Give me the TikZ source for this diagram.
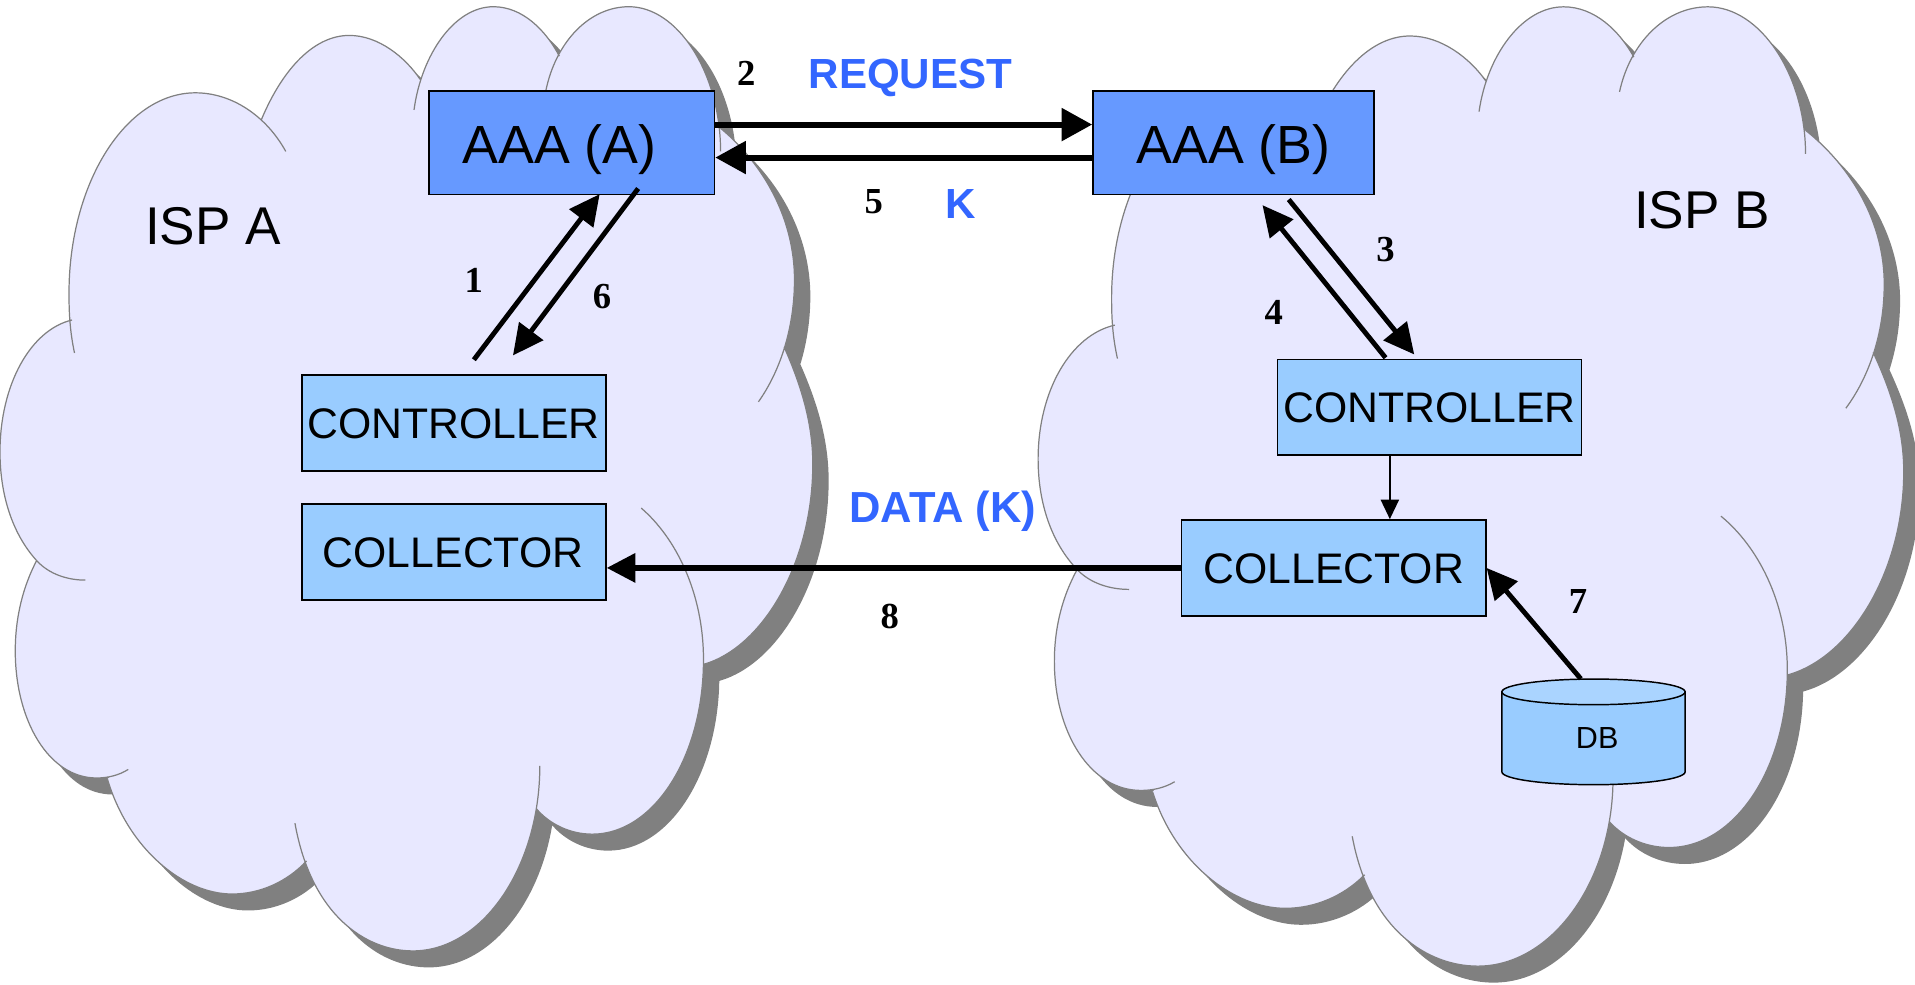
\documentclass[tikz,border=0pt]{standalone}
\usepackage{fontspec}
\setmainfont{Liberation Sans}
\newfontfamily\numfont{Liberation Serif}
\usetikzlibrary{arrows.meta}
\definecolor{cloudfill}{HTML}{E8E8FF}
\definecolor{cloudshadow}{HTML}{808080}
\definecolor{aaafill}{HTML}{6699FF}
\definecolor{boxfill}{HTML}{99CCFF}
\definecolor{dbtop}{HTML}{AAD4FF}
\definecolor{labelblue}{HTML}{3366FF}
% place text on a box: #1 horizontal shift of the text centre, #2 baseline above node centre
\newcommand\placed[3]{\raisebox{#2}[0pt][0pt]{\makebox[0pt][c]{\hspace*{#1}\hspace*{#1}#3}}}
% every lobe of a cloud, clockwise; \lobepre and \lobepost turn it into a fan (fill) or an open arc (stroke)
\newcommand\cloudlobes{%
  \lobepre (70,475) .. controls (55,475) and (40,470) .. (30,459) .. controls (10,437) and (0,405) .. (0,370) .. controls (0,315) and (25,270) .. (59,262) \lobepost
  \lobepre (61,289) .. controls (57,270) and (56.5,255) .. (56.5,240) .. controls (56.5,150) and (103,76) .. (160,76) .. controls (190,76) and (218,95) .. (234,124) \lobepost
  \lobepre (214,98) .. controls (232,55) and (258,29) .. (286,29) .. controls (310,29) and (332,47) .. (344,65) \lobepost
  \lobepre (339,90) .. controls (345,45) and (372,5.5) .. (404,5.5) .. controls (428,5.5) and (447,25) .. (458,46) \lobepost
  \lobepre (447,74) .. controls (455,35) and (482,5.5) .. (515,5.5) .. controls (555,5.5) and (590,60) .. (590,124) \lobepost
  \lobepre (590,105) .. controls (626,135) and (650.5,180) .. (650.5,229) .. controls (650.5,270) and (638,305) .. (621,329) \lobepost
  \lobepre (642,284) .. controls (658,320) and (665.5,350) .. (665.5,380) .. controls (665.5,460) and (625,530) .. (576,544) \lobepost
  \lobepre (525,416) .. controls (553,440) and (576,485) .. (576,540) .. controls (576,620) and (535,683) .. (485,683) .. controls (467,683) and (450,675) .. (439,662) \lobepost
  \lobepre (442,627) .. controls (442,710) and (395,778.6) .. (338,778.6) .. controls (300,778.6) and (255,750) .. (241.5,674) \lobepost
  \lobepre (251,705) .. controls (235,722) and (213,732) .. (190,732) .. controls (150,732) and (105,695) .. (88,638) \lobepost
  \lobepre (105,630) .. controls (97,635) and (88,637) .. (79,637) .. controls (40,637) and (12.5,590) .. (12.5,533) .. controls (12.5,505) and (19,480) .. (30,459) \lobepost
}
\newcommand\fancloud{\def\lobepre{(330,400) --}\def\lobepost{-- cycle}}
\newcommand\opencloud{\def\lobepre{}\def\lobepost{}}
\newcommand\drawcloud[3]{%
  \begin{scope}[shift={(#1+13,13.5)},xscale=#2,yscale=#3]
    \fancloud\fill[cloudshadow] \cloudlobes;
  \end{scope}
  \begin{scope}[shift={(#1,0)},xscale=#2,yscale=#3]
    \fancloud\fill[cloudfill] \cloudlobes;
    \opencloud\draw[cloudshadow,line width=1pt] \cloudlobes;
  \end{scope}
}
\tikzset{
  aaabox/.style={draw=black,line width=1.4pt,fill=aaafill,inner sep=0pt,minimum width=#1,minimum height=84.5pt,font=\fontsize{44}{50}\selectfont},
  plainbox/.style={draw=black,line width=1.4pt,fill=boxfill,inner sep=0pt,minimum width=249pt,minimum height=78.5pt,font=\fontsize{35}{40}\selectfont},
  isp/.style={anchor=base,inner sep=0pt,font=\fontsize{43.5}{50}\selectfont},
  num/.style={anchor=base,inner sep=0pt,font=\numfont\bfseries\fontsize{30}{34}\selectfont},
  bluelabel/.style={anchor=base,inner sep=0pt,text=labelblue,font=\bfseries\fontsize{34.5}{40}\selectfont},
  heavy/.style={line width=4.9pt,-{Triangle[length=25pt,width=26pt]}},
  medium/.style={line width=4pt,-{Triangle[length=25pt,width=24pt]}},
  fine/.style={line width=1.2pt,-{Triangle[length=16pt,width=15pt]}}
}
\begin{document}
\begin{tikzpicture}[x=1pt,y=-1pt]
\useasboundingbox (0,0) rectangle (1568,805.7);
\drawcloud{0}{1}{1}
\drawcloud{850}{1.065}{1.016}

\node[aaabox=234pt] (aaaA) at (468,117) {\placed{-10pt}{-16.7pt}{AAA (A)}};
\node[aaabox=230pt] (aaaB) at (1010,117) {\placed{0pt}{-16.7pt}{AAA (B)}};
\node[plainbox] (ctrlA) at (371.5,346.5) {\placed{0pt}{-12.5pt}{CONTROLLER}};
\node[plainbox] (collA) at (371.5,452) {\placed{-0.5pt}{-12.5pt}{COLLECTOR}};
\node[plainbox] (ctrlB) at (1170.5,333.5) {\placed{0pt}{-12.5pt}{CONTROLLER}};
\node[plainbox] (collB) at (1092,465) {\placed{0pt}{-12.6pt}{COLLECTOR}};

% database cylinder
\draw[black,line width=1.2pt,fill=boxfill] (1229.75,566.5) -- (1229.75,632) arc[start angle=180,end angle=0,x radius=75,y radius=10.5] -- (1379.75,566.5) -- cycle;
\draw[black,line width=1.2pt,fill=dbtop] (1304.75,566.5) ellipse[x radius=75,y radius=10.5];
\node[minimum width=150pt,minimum height=86.5pt,inner sep=0pt,font=\fontsize{25}{30}\selectfont] (db) at (1304.75,599.25) {\placed{3pt}{-13.5pt}{DB}};

\node[isp] (ispA) at (174.5,200) {ISP A};
\node[isp] (ispB) at (1393.6,187) {ISP B};
\node[bluelabel] (req) at (745.5,72.3) {REQUEST};
\node[bluelabel] (keyK) at (786.5,178.8) {K};
\node[bluelabel,font=\bfseries\fontsize{35.6}{40}\selectfont] (dataK) at (772,428) {DATA (K)};
\node[num] (n1) at (388,239.6) {1};
\node[num] (n2) at (611,69.6) {2};
\node[num] (n3) at (1134.4,214) {3};
\node[num] (n4) at (1043,266) {4};
\node[num] (n5) at (715.5,174.7) {5};
\node[num] (n6) at (493,253) {6};
\node[num] (n7) at (1292,502) {7};
\node[num] (n8) at (728.5,515) {8};

\draw[heavy] ([shift={(0,-15)}]aaaA.east) -- ([shift={(0,-15)}]aaaB.west);
\draw[heavy] ([shift={(0,12)}]aaaB.west) -- ([shift={(0,12)}]aaaA.east);
\draw[medium] ([shift={(16.5,-12)}]ctrlA.north) -- ([shift={(23,-1)}]aaaA.south);
\draw[medium] ([shift={(54.5,-5.6)}]aaaA.south) -- ([shift={(48.5,-15.5)}]ctrlA.north);
\draw[medium] ([shift={(45.2,3.4)}]aaaB.south) -- ([shift={(-12.5,-3.3)}]ctrlB.north);
\draw[medium] ([shift={(-36,-0.6)}]ctrlB.north) -- ([shift={(23.7,8)}]aaaB.south);
\draw[fine] ([shift={(-32.5,0)}]ctrlB.south) -- ([shift={(46,0)}]collB.north);
\draw[heavy,-{Triangle[length=23.5pt,width=23pt]}] (collB.west) -- ([shift={(0,13)}]collA.east);
\draw[medium] ([shift={(-10.4,0)}]db.north) -- (collB.east);
\end{tikzpicture}
\end{document}
